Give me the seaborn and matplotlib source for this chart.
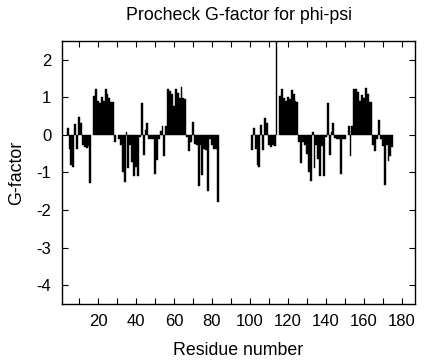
import numpy as np
import pandas as pd
import seaborn as sns
import matplotlib
matplotlib.use("Agg")
import matplotlib.pyplot as plt
from matplotlib.ticker import MultipleLocator

# G-factor per residue (None = residue with no bar)
chain_a_start = 4
g_chain_a = [0.18, -0.37, -0.80, -0.85, 0.28, -0.37, 0.49, 0.33, -0.28, -0.32,
             -0.35, -0.30, -1.27, None, 1.03, 1.21, 0.90, 0.86, 1.02, 0.90,
             1.21, 1.10, 0.99, 0.88, 0.88, -0.19, None, -0.12, -0.26, -0.98,
             -1.26, 0.09, -0.88, -0.28, -0.72, -1.09, -0.85, -1.10, -0.05, 0.86,
             -0.53, 0.13, 0.33, -0.10, -0.10, -0.12, -1.05, -0.68, -0.10, 0.10,
             0.23, -0.56, 0.23, 1.23, 1.17, 1.08, 0.77, 1.23, 1.12, 0.99,
             1.28, 0.99, 0.95, -0.05, -0.44, -0.20, 0.35, -0.24, -0.28, -1.35,
             -0.28, -1.07, -0.37, -0.40, -1.50, -0.10, -0.28, -0.37, -0.37, -1.79]

chain_b_start = 101
g_chain_b = [-0.41, 0.18, -0.37, -0.80, -0.85, 0.26, -0.39, 0.46, 0.33, -0.28,
             -0.32, -0.28, -0.30, 3.2, None, 1.03, 1.21, 0.99, 0.90, 1.02,
             0.96, 1.19, 1.08, 0.90, 0.88, -0.19, -0.74, -0.19, -0.28, -0.50,
             -0.98, -1.23, 0.09, -0.88, -0.28, -0.65, -1.10, -0.30, -1.10, -0.05,
             0.86, -0.53, 0.09, 0.33, -0.09, -0.10, -0.10, -1.05, -0.10, -0.10,
             None, 0.23, -0.56, 0.23, 1.23, 1.21, 1.14, 0.90, 1.06, 0.99,
             1.25, 1.10, 0.88, 0.88, -0.26, -0.44, -0.10, 0.40, -0.10, -0.30,
             -1.33, -0.28, -0.70, -0.55, -0.32]

rows = []
for start, vals in [(chain_a_start, g_chain_a), (chain_b_start, g_chain_b)]:
    for i, v in enumerate(vals):
        if v is not None:
            rows.append((start + i, v))
df = pd.DataFrame(rows, columns=["residue", "gfactor"])

sns.set_style("ticks")
plt.rcParams["font.family"] = ["Liberation Sans", "DejaVu Sans"]
plt.rcParams["text.color"] = "black"
plt.rcParams["axes.labelcolor"] = "black"
plt.rcParams["xtick.color"] = "black"
plt.rcParams["ytick.color"] = "black"
plt.rcParams["axes.unicode_minus"] = False  # plain hyphen like the original

fig = plt.figure(figsize=(4.24, 3.6), dpi=100)
ax = fig.add_axes([0.146, 0.156, 0.833, 0.730])

sns.barplot(data=df, x="residue", y="gfactor", native_scale=True, width=1,
            color="black", edgecolor="black", linewidth=0.3, errorbar=None,
            saturation=1, ax=ax)

ax.set_xlim(1, 187)
ax.set_ylim(-4.5, 2.5)
ax.xaxis.set_major_locator(MultipleLocator(20))
ax.xaxis.set_minor_locator(MultipleLocator(10))
ax.yaxis.set_major_locator(MultipleLocator(1))
ax.tick_params(which="both", direction="in", top=True, right=True,
               length=4, width=0.8, labelsize=12, pad=7.5)
for s in ax.spines.values():
    s.set_linewidth(1.0)
    s.set_color("black")

ax.set_xlabel("Residue number", fontsize=12.8, labelpad=9)
ax.set_ylabel("G-factor", fontsize=12.8, labelpad=8)
ax.set_title("Procheck G-factor for phi-psi", fontsize=12.8, pad=15)

fig.savefig("out.png", dpi=100)
